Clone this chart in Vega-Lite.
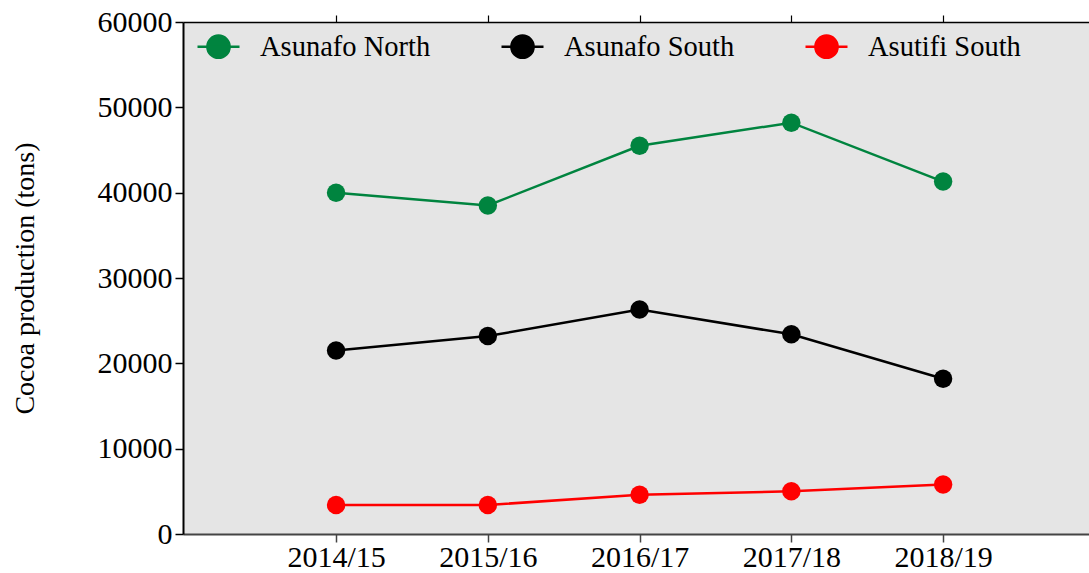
{
  "$schema": "https://vega.github.io/schema/vega-lite/v6.json",
  "width": 906,
  "height": 512,
  "autosize": {"type": "none"},
  "padding": {"left": 183, "top": 22, "right": 0, "bottom": 39},
  "background": "white",
  "config": {
    "view": {"stroke": null, "fill": "#e5e5e5"},
    "font": "Liberation Serif"
  },
  "data": {
    "values": [
      {"season": "2014/15", "district": "Asunafo North", "tons": 40000},
      {"season": "2015/16", "district": "Asunafo North", "tons": 38500},
      {"season": "2016/17", "district": "Asunafo North", "tons": 45500},
      {"season": "2017/18", "district": "Asunafo North", "tons": 48200},
      {"season": "2018/19", "district": "Asunafo North", "tons": 41300},
      {"season": "2014/15", "district": "Asunafo South", "tons": 21500},
      {"season": "2015/16", "district": "Asunafo South", "tons": 23200},
      {"season": "2016/17", "district": "Asunafo South", "tons": 26300},
      {"season": "2017/18", "district": "Asunafo South", "tons": 23400},
      {"season": "2018/19", "district": "Asunafo South", "tons": 18200},
      {"season": "2014/15", "district": "Asutifi South", "tons": 3400},
      {"season": "2015/16", "district": "Asutifi South", "tons": 3400},
      {"season": "2016/17", "district": "Asutifi South", "tons": 4600},
      {"season": "2017/18", "district": "Asutifi South", "tons": 5000},
      {"season": "2018/19", "district": "Asutifi South", "tons": 5800}
    ]
  },
  "layer": [
    {
      "mark": {"type": "line", "strokeWidth": 2.5},
      "encoding": {
        "x": {
          "field": "season", "type": "ordinal",
          "scale": {"type": "point", "padding": 0.985, "align": 0.512},
          "axis": {
            "orient": "bottom", "title": null, "labelAngle": 0,
            "labelFontSize": 30, "labelColor": "black", "labelPadding": 0,
            "domainColor": "#444444", "domainWidth": 2,
            "tickColor": "#444444", "tickSize": 8, "tickWidth": 1.5, "grid": false
          }
        },
        "y": {
          "field": "tons", "type": "quantitative",
          "scale": {"domain": [0, 60000], "nice": false},
          "axis": {
            "title": "Cocoa production (tons)", "titleFontSize": 28, "titleFontWeight": "normal",
            "titleColor": "black", "titlePadding": 58,
            "values": [0, 10000, 20000, 30000, 40000, 50000, 60000], "format": "d",
            "labelFontSize": 30, "labelColor": "black", "labelPadding": 3,
            "domainColor": "black", "domainWidth": 2,
            "tickColor": "black", "tickSize": 8, "tickWidth": 1.5, "grid": false
          }
        },
        "color": {
          "field": "district", "type": "nominal",
          "scale": {"domain": ["Asunafo North", "Asunafo South", "Asutifi South"], "range": ["#00843f", "#000000", "#ff0000"]},
          "legend": {
            "title": null, "orient": "none", "legendX": 13, "legendY": 2,
            "direction": "horizontal", "columns": 3, "gridAlign": "all", "columnPadding": 65,
            "labelFontSize": 28.5, "labelColor": "black", "labelOffset": 19, "labelLimit": 400,
            "symbolType": "M-1,0L1,0M-0.53,0A0.53,0.53,0,1,1,0.53,0A0.53,0.53,0,1,1,-0.53,0Z",
            "symbolSize": 1764, "symbolStrokeWidth": 2.5,
            "encode": {
              "symbols": {
                "update": {
                  "fill": {"scale": "color", "field": "value"},
                  "stroke": {"scale": "color", "field": "value"},
                  "opacity": {"value": 1}
                }
              }
            }
          }
        }
      }
    },
    {
      "mark": {"type": "point", "filled": true, "size": 340, "opacity": 1},
      "encoding": {
        "x": {
          "field": "season", "type": "ordinal",
          "scale": {"type": "point", "padding": 0.985, "align": 0.512},
          "axis": {
            "orient": "top", "title": null, "labels": false,
            "domainColor": "black", "domainWidth": 1.5,
            "tickColor": "black", "tickSize": 7, "tickWidth": 1.2, "grid": false
          }
        },
        "y": {"field": "tons", "type": "quantitative", "scale": {"domain": [0, 60000], "nice": false}},
        "color": {"field": "district", "type": "nominal"}
      }
    }
  ],
  "resolve": {"axis": {"x": "independent"}}
}
